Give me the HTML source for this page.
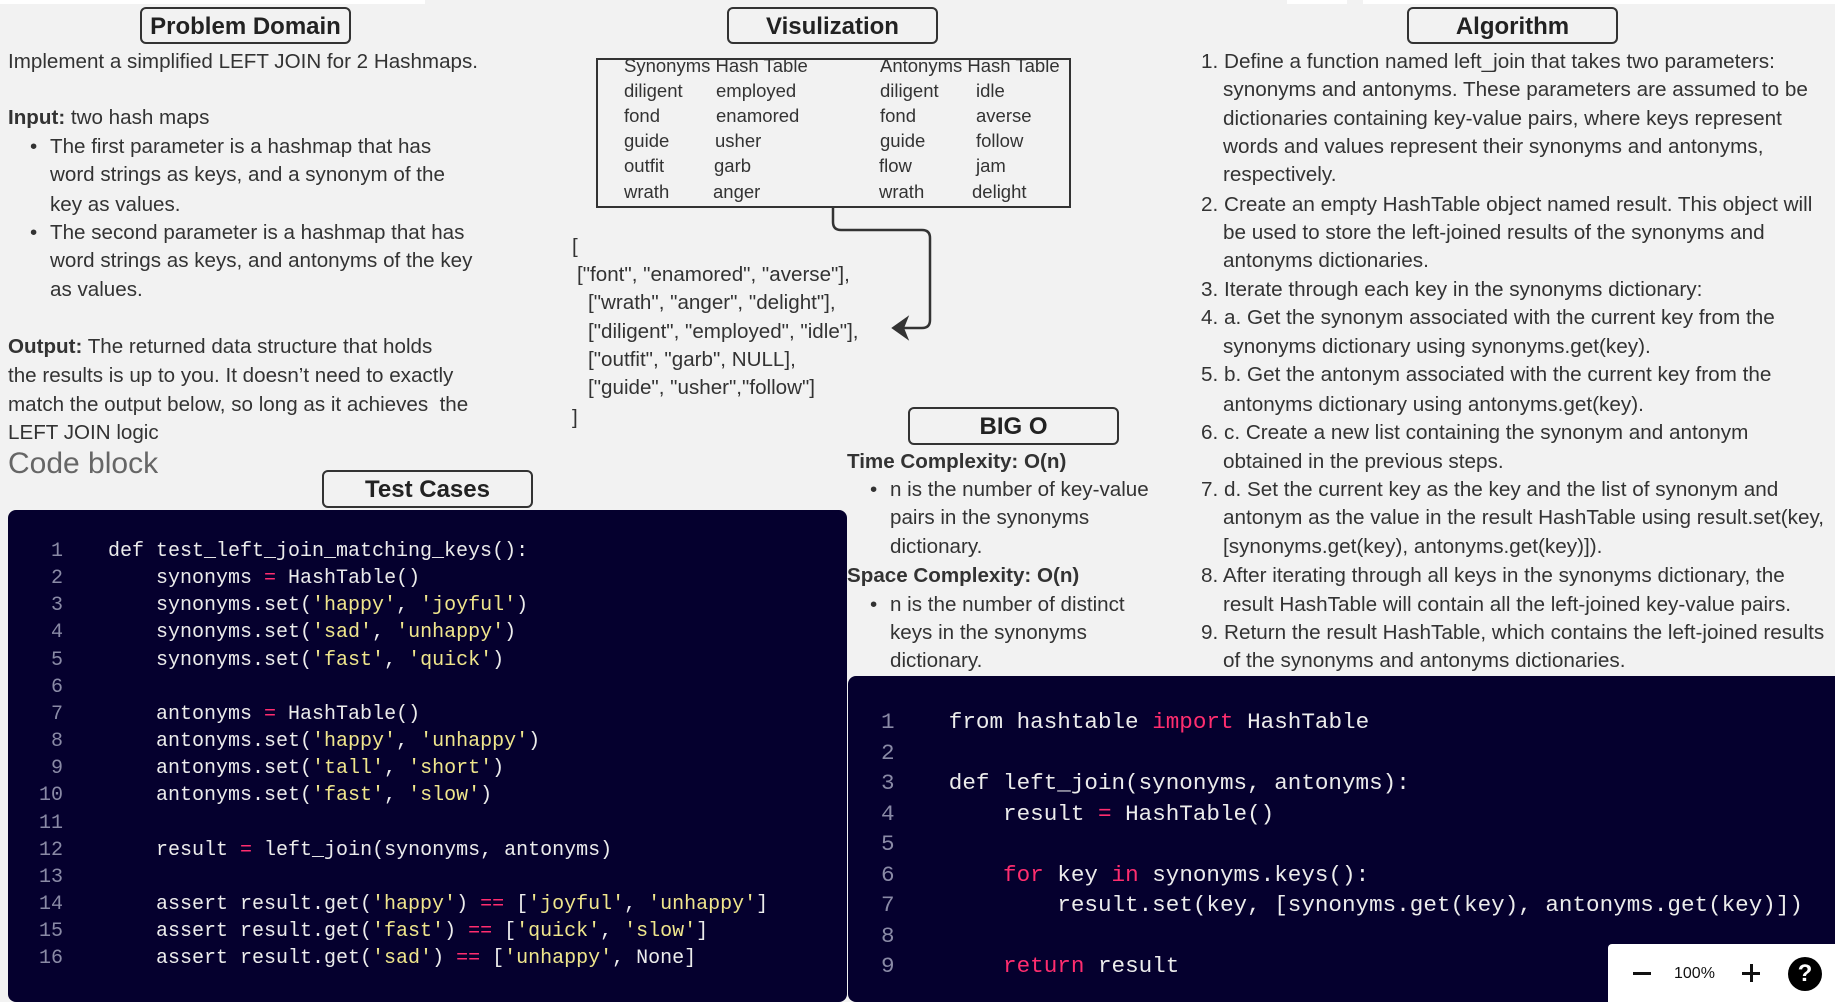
<!DOCTYPE html>
<html><head><meta charset="utf-8"><style>
*{margin:0;padding:0;box-sizing:border-box}
body{width:1835px;height:1002px;background:#f2f2f2;position:relative;overflow:hidden;font-family:"Liberation Sans",sans-serif;color:#333}
.a{position:absolute;white-space:nowrap}
.t{font-size:20.6px;line-height:28px;height:28px;margin-top:1px}
.g{font-size:20.7px}
.box{position:absolute;border:2.5px solid #333;border-radius:6px;background:#f2f2f2;font-weight:bold;font-size:24px;text-align:center;color:#222}
.code{position:absolute;background:#05002e;border-radius:8px}
.m{font-family:"Liberation Mono",monospace;color:#ececec}
.n{color:#8a8aa6}
.s{color:#f0e68c}
.k{color:#ff2d6f}
.h{font-size:18.5px;line-height:24px;height:24px}
.L .n{display:inline-block;width:63px;text-align:right;margin-right:45px}
</style></head><body>
<div class="a" style="left:0;top:0;width:425px;height:4px;background:#fff"></div>
<div class="a" style="left:1287px;top:0;width:60px;height:4px;background:#fff"></div>
<div class="a" style="left:1363px;top:0;width:472px;height:4px;background:#fff"></div>

<div class="box" style="left:140px;top:7px;width:211px;height:37px;line-height:35px">Problem Domain</div>
<div class="box" style="left:727px;top:7px;width:211px;height:37px;line-height:35px">Visulization</div>
<div class="box" style="left:1407px;top:7px;width:211px;height:37px;line-height:35px">Algorithm</div>

<div class="a t" style="left:8px;top:47px">Implement a simplified LEFT JOIN for 2 Hashmaps.</div>
<div class="a t" style="left:8px;top:103px"><b>Input:</b> two hash maps</div>
<div class="a t" style="left:30px;top:132px">•</div>
<div class="a t" style="left:50px;top:132px">The first parameter is a hashmap that has</div>
<div class="a t" style="left:50px;top:160px">word strings as keys, and a synonym of the</div>
<div class="a t" style="left:50px;top:190px">key as values.</div>
<div class="a t" style="left:30px;top:218px">•</div>
<div class="a t" style="left:50px;top:218px">The second parameter is a hashmap that has</div>
<div class="a t" style="left:50px;top:246px">word strings as keys, and antonyms of the key</div>
<div class="a t" style="left:50px;top:275px">as values.</div>
<div class="a t" style="left:8px;top:332px"><b>Output:</b> The returned data structure that holds</div>
<div class="a t" style="left:8px;top:361px">the results is up to you. It doesn’t need to exactly</div>
<div class="a t" style="left:8px;top:390px">match the output below, so long as it achieves&nbsp; the</div>
<div class="a t" style="left:8px;top:418px">LEFT JOIN logic</div>
<div class="a" style="left:8px;top:446px;font-size:30px;line-height:36px;color:#666">Code block</div>

<div class="box" style="left:322px;top:470px;width:211px;height:38px;line-height:36px">Test Cases</div>
<div class="box" style="left:908px;top:407px;width:211px;height:38px;line-height:36px">BIG O</div>

<div class="a" style="left:596px;top:58px;width:475px;height:150px;border:2.5px solid #333"></div>
<div class="a h" style="left:624px;top:54px">Synonyms Hash Table</div>
<div class="a h" style="left:880px;top:54px">Antonyms Hash Table</div>
<div class="a h" style="left:624px;top:79px">diligent</div><div class="a h" style="left:716px;top:79px">employed</div><div class="a h" style="left:880px;top:79px">diligent</div><div class="a h" style="left:976px;top:79px">idle</div>
<div class="a h" style="left:624px;top:104px">fond</div><div class="a h" style="left:716px;top:104px">enamored</div><div class="a h" style="left:880px;top:104px">fond</div><div class="a h" style="left:976px;top:104px">averse</div>
<div class="a h" style="left:624px;top:129px">guide</div><div class="a h" style="left:715px;top:129px">usher</div><div class="a h" style="left:880px;top:129px">guide</div><div class="a h" style="left:976px;top:129px">follow</div>
<div class="a h" style="left:624px;top:154px">outfit</div><div class="a h" style="left:714px;top:154px">garb</div><div class="a h" style="left:879px;top:154px">flow</div><div class="a h" style="left:976px;top:154px">jam</div>
<div class="a h" style="left:624px;top:180px">wrath</div><div class="a h" style="left:713px;top:180px">anger</div><div class="a h" style="left:879px;top:180px">wrath</div><div class="a h" style="left:972px;top:180px">delight</div>

<svg class="a" style="left:0;top:0" width="1835" height="1002">
<path d="M833 208 V222 Q833 230 841 230 H922 Q930 230 930 238 V320 Q930 328 922 328 H900" fill="none" stroke="#333" stroke-width="2.5"/>
<path d="M893 328 L907 318 L903 328 L907 338 Z" fill="#333" stroke="#333" stroke-width="2"/>
</svg>

<div class="a t" style="left:572px;top:232px">[</div>
<div class="a t" style="left:577px;top:260px">["font", "enamored", "averse"],</div>
<div class="a t" style="left:588px;top:288px">["wrath", "anger", "delight"],</div>
<div class="a t" style="left:588px;top:317px">["diligent", "employed", "idle"],</div>
<div class="a t" style="left:588px;top:345px">["outfit", "garb", NULL],</div>
<div class="a t" style="left:588px;top:373px">["guide", "usher","follow"]</div>
<div class="a t" style="left:572px;top:403px">]</div>

<div class="a t" style="left:847px;top:447px"><b>Time Complexity: O(n)</b></div>
<div class="a t" style="left:870px;top:475px">•</div>
<div class="a t" style="left:890px;top:475px">n is the number of key-value</div>
<div class="a t" style="left:890px;top:503px">pairs in the synonyms</div>
<div class="a t" style="left:890px;top:532px">dictionary.</div>
<div class="a t" style="left:847px;top:561px"><b>Space Complexity: O(n)</b></div>
<div class="a t" style="left:870px;top:590px">•</div>
<div class="a t" style="left:890px;top:590px">n is the number of distinct</div>
<div class="a t" style="left:890px;top:618px">keys in the synonyms</div>
<div class="a t" style="left:890px;top:646px">dictionary.</div>

<div class="a t g" style="left:1201px;top:47px">1. Define a function named left_join that takes two parameters:</div>
<div class="a t g" style="left:1223px;top:75px">synonyms and antonyms. These parameters are assumed to be</div>
<div class="a t g" style="left:1223px;top:104px">dictionaries containing key-value pairs, where keys represent</div>
<div class="a t g" style="left:1223px;top:132px">words and values represent their synonyms and antonyms,</div>
<div class="a t g" style="left:1223px;top:160px">respectively.</div>
<div class="a t g" style="left:1201px;top:190px">2. Create an empty HashTable object named result. This object will</div>
<div class="a t g" style="left:1223px;top:218px">be used to store the left-joined results of the synonyms and</div>
<div class="a t g" style="left:1223px;top:246px">antonyms dictionaries.</div>
<div class="a t g" style="left:1201px;top:275px">3. Iterate through each key in the synonyms dictionary:</div>
<div class="a t g" style="left:1201px;top:303px">4. a. Get the synonym associated with the current key from the</div>
<div class="a t g" style="left:1223px;top:332px">synonyms dictionary using synonyms.get(key).</div>
<div class="a t g" style="left:1201px;top:360px">5. b. Get the antonym associated with the current key from the</div>
<div class="a t g" style="left:1223px;top:390px">antonyms dictionary using antonyms.get(key).</div>
<div class="a t g" style="left:1201px;top:418px">6. c. Create a new list containing the synonym and antonym</div>
<div class="a t g" style="left:1223px;top:447px">obtained in the previous steps.</div>
<div class="a t g" style="left:1201px;top:475px">7. d. Set the current key as the key and the list of synonym and</div>
<div class="a t g" style="left:1223px;top:503px">antonym as the value in the result HashTable using result.set(key,</div>
<div class="a t g" style="left:1223px;top:532px">[synonyms.get(key), antonyms.get(key)]).</div>
<div class="a t g" style="left:1201px;top:561px">8. After iterating through all keys in the synonyms dictionary, the</div>
<div class="a t g" style="left:1223px;top:590px">result HashTable will contain all the left-joined key-value pairs.</div>
<div class="a t g" style="left:1201px;top:618px">9. Return the result HashTable, which contains the left-joined results</div>
<div class="a t g" style="left:1223px;top:646px">of the synonyms and antonyms dictionaries.</div>

<div class="code" style="left:8px;top:510px;width:839px;height:492px"></div>
<div class="a m L" style="left:0;top:538px;font-size:20px;line-height:27.15px;white-space:pre"><div><span class="n">1</span>def test_left_join_matching_keys():</div><div><span class="n">2</span>    synonyms <span class="k">=</span> HashTable()</div><div><span class="n">3</span>    synonyms.set(<span class="s">'happy'</span>, <span class="s">'joyful'</span>)</div><div><span class="n">4</span>    synonyms.set(<span class="s">'sad'</span>, <span class="s">'unhappy'</span>)</div><div><span class="n">5</span>    synonyms.set(<span class="s">'fast'</span>, <span class="s">'quick'</span>)</div><div><span class="n">6</span></div><div><span class="n">7</span>    antonyms <span class="k">=</span> HashTable()</div><div><span class="n">8</span>    antonyms.set(<span class="s">'happy'</span>, <span class="s">'unhappy'</span>)</div><div><span class="n">9</span>    antonyms.set(<span class="s">'tall'</span>, <span class="s">'short'</span>)</div><div><span class="n">10</span>    antonyms.set(<span class="s">'fast'</span>, <span class="s">'slow'</span>)</div><div><span class="n">11</span></div><div><span class="n">12</span>    result <span class="k">=</span> left_join(synonyms, antonyms)</div><div><span class="n">13</span></div><div><span class="n">14</span>    assert result.get(<span class="s">'happy'</span>) <span class="k">==</span> [<span class="s">'joyful'</span>, <span class="s">'unhappy'</span>]</div><div><span class="n">15</span>    assert result.get(<span class="s">'fast'</span>) <span class="k">==</span> [<span class="s">'quick'</span>, <span class="s">'slow'</span>]</div><div><span class="n">16</span>    assert result.get(<span class="s">'sad'</span>) <span class="k">==</span> [<span class="s">'unhappy'</span>, None]</div></div>

<div class="code" style="left:848px;top:676px;width:1000px;height:326px"></div>
<div class="a m" style="left:881px;top:707px;font-size:22.6px;line-height:30.5px;white-space:pre"><div><span class="n">1</span>    from hashtable <span class="k">import</span> HashTable</div><div><span class="n">2</span></div><div><span class="n">3</span>    def left_join(synonyms, antonyms):</div><div><span class="n">4</span>        result <span class="k">=</span> HashTable()</div><div><span class="n">5</span></div><div><span class="n">6</span>        <span class="k">for</span> key <span class="k">in</span> synonyms.keys():</div><div><span class="n">7</span>            result.set(key, [synonyms.get(key), antonyms.get(key)])</div><div><span class="n">8</span></div><div><span class="n">9</span>        <span class="k">return</span> result</div></div>

<div class="a" style="left:1608px;top:944px;width:227px;height:58px;background:#fff;border-radius:4px 0 0 0"></div>
<div class="a" style="left:1633px;top:972px;width:18px;height:3px;background:#111"></div>
<div class="a" style="left:1674px;top:962px;font-size:16px;line-height:24px;color:#111">100%</div>
<div class="a" style="left:1742px;top:972px;width:18px;height:3px;background:#111"></div>
<div class="a" style="left:1749.5px;top:964px;width:3px;height:18px;background:#111"></div>
<div class="a" style="left:1788px;top:957px;width:34px;height:34px;border-radius:50%;background:#000;color:#fff;font-weight:bold;font-size:24px;line-height:34px;text-align:center">?</div>
</body></html>
